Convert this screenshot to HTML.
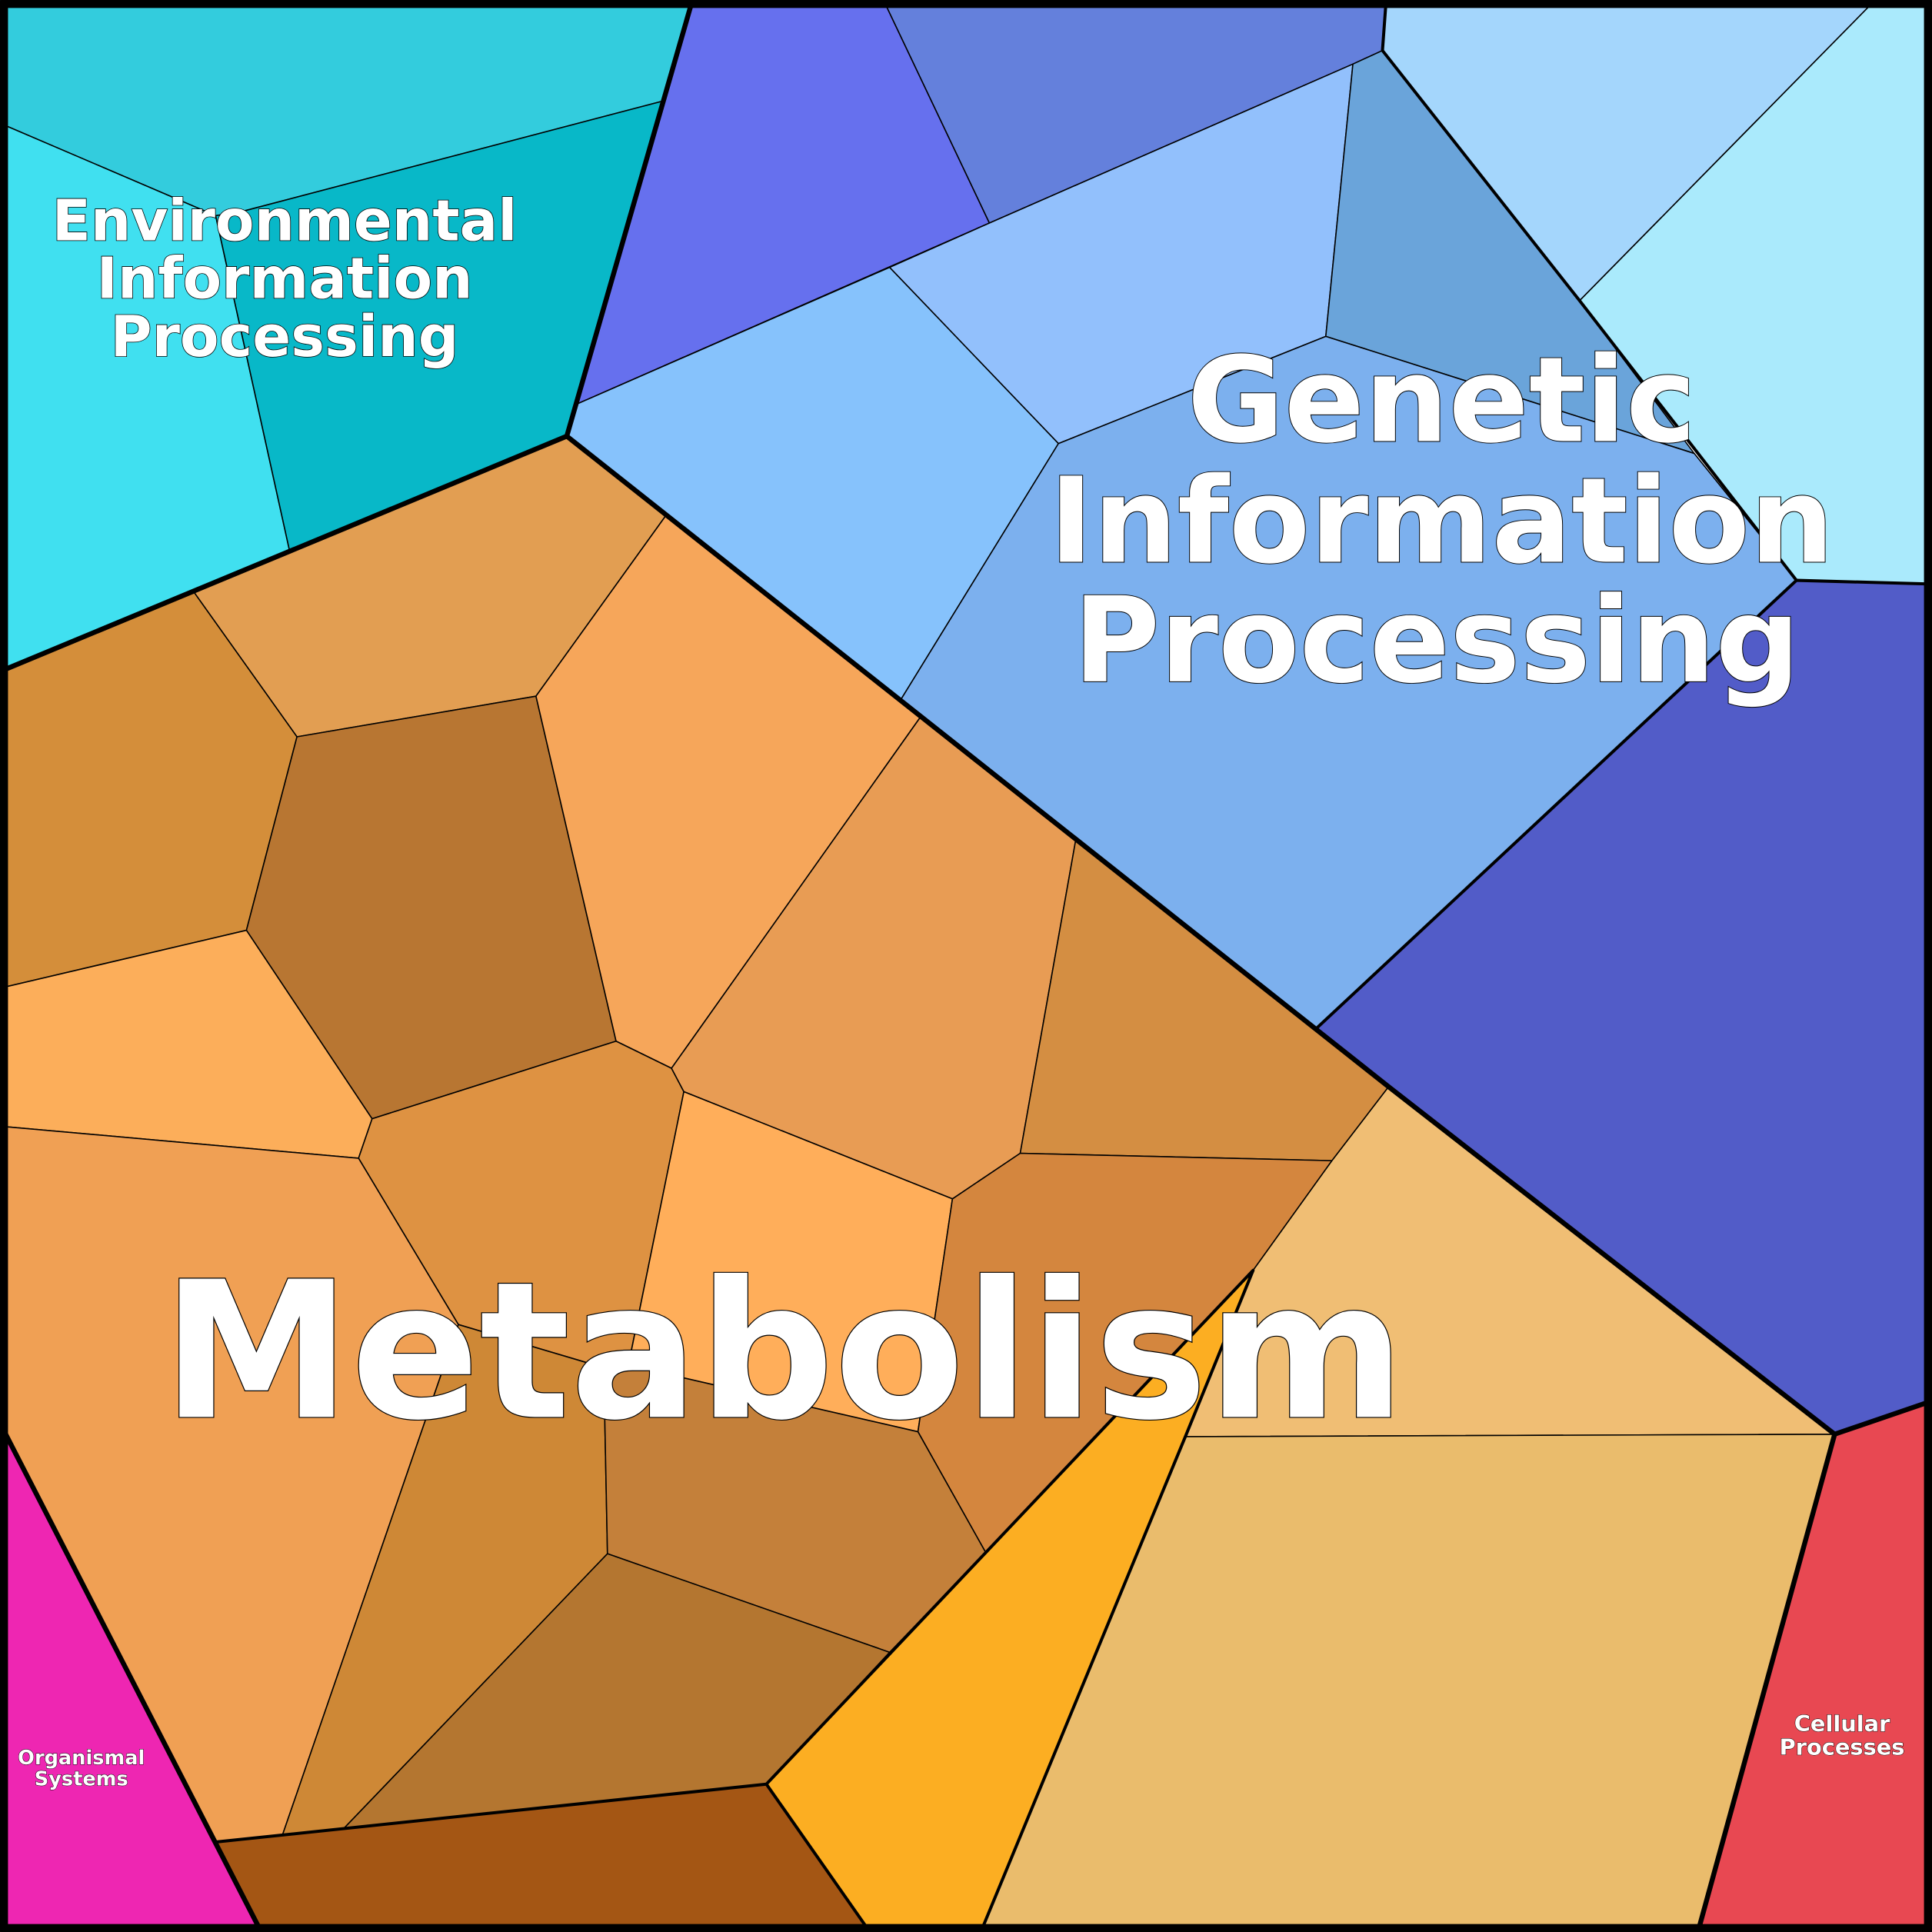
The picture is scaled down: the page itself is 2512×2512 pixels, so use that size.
<!DOCTYPE html>
<html><head><meta charset="utf-8"><style>html,body{margin:0;padding:0;background:#fff}svg{display:block}</style></head>
<body>
<svg xmlns="http://www.w3.org/2000/svg" width="2512" height="2512" viewBox="0 0 1568 1568">
<g stroke="#000" stroke-width="1" stroke-linejoin="round">
<polygon fill="#33CCDD" points="0,0 562,0 538,82 195,172 175,175 0,100"/>
<polygon fill="#40E0F0" points="0,100 175,175 235,447 0,545"/>
<polygon fill="#08B8C8" points="175,175 195,172 538,82 460,354 235,447"/>
<polygon fill="#6670EE" points="562,0 717,0 803,181 468,328 538,82"/>
<polygon fill="#6480DC" points="717,0 1125,0 1122,41 1098,52 803,181"/>
<polygon fill="#92C0FC" points="803,181 1098,52 1076,273 859,360 722,217"/>
<polygon fill="#86C2FC" points="468,328 722,217 859,360 731,568 460,354"/>
<polygon fill="#6AA4DA" points="1098,52 1122,41 1282,244 1375,368 1076,273"/>
<polygon fill="#A4D6FC" points="1125,0 1522,0 1282,244 1122,41"/>
<polygon fill="#AAEAFC" points="1522,0 1568,0 1568,474 1458,471 1282,244"/>
<polygon fill="#7CB0EE" points="859,360 1076,273 1375,368 1458,471 1068,835 731,568"/>
<polygon fill="#525CC8" points="1458,471 1568,474 1568,1137 1489,1164 1127,882 1068,835"/>
<polygon fill="#E29E52" points="460,354 540,419 435,565 241,598 157,480 235,447"/>
<polygon fill="#D48E3A" points="0,545 157,480 241,598 200,755 0,802"/>
<polygon fill="#B87632" points="241,598 435,565 500,845 302,908 200,755"/>
<polygon fill="#F6A65A" points="540,419 747,582 545,867 500,845 435,565"/>
<polygon fill="#FCAE5A" points="0,802 200,755 302,908 291,940 0,914"/>
<polygon fill="#DE9242" points="302,908 500,845 545,867 555,886 510,1108 490,1110 372,1075 291,940"/>
<polygon fill="#E89C54" points="747,582 873,682 828,936 773,973 555,886 545,867"/>
<polygon fill="#D48E42" points="873,682 1127,882 1081,942 828,936"/>
<polygon fill="#FFAE5A" points="555,886 773,973 745,1162 510,1108"/>
<polygon fill="#D4863E" points="773,973 828,936 1081,942 1017,1031 800,1260 745,1162"/>
<polygon fill="#F0A054" points="0,914 291,940 372,1075 229,1490 175,1495 0,1155"/>
<polygon fill="#CE8836" points="372,1075 490,1110 493,1261 279,1484 229,1490"/>
<polygon fill="#C4803A" points="490,1110 510,1108 745,1162 800,1260 722,1341 493,1261"/>
<polygon fill="#B47630" points="493,1261 722,1341 622,1448 279,1484"/>
<polygon fill="#A45614" points="175,1495 622,1448 706,1568 212,1568"/>
<polygon fill="#FCAE22" points="622,1448 1017,1031 962,1166 796,1568 706,1568"/>
<polygon fill="#F0BE74" points="1127,882 1489,1164 962,1166 1017,1031 1081,942"/>
<polygon fill="#EABC6C" points="962,1166 1489,1164 1378,1568 796,1568"/>
<polygon fill="#EE26B2" points="0,1155 212,1568 0,1568"/>
<polygon fill="#E84852" points="1489,1164 1568,1137 1568,1568 1378,1568"/>
</g>
<g stroke="#000" fill="none" stroke-width="2.5" stroke-linejoin="round">
<polyline points="1122,41 1282,244 1458,471 1068,835"/>
<polyline points="1458,471 1568,474"/>
<polyline points="175,1495 622,1448 706,1568"/>
<polyline points="622,1448 1017,1031 962,1166 796,1568"/>
<polyline points="1122,41 1125,0"/>
</g>
<g stroke="#000" fill="none" stroke-width="4" stroke-linejoin="round">
<polyline points="562,0 460,354 0,545"/>
<polyline points="460,354 1127,882 1489,1164 1568,1137"/>
<polyline points="1489,1164 1378,1568"/>
<polyline points="0,1155 212,1568"/>
<rect x="3" y="3" width="1562" height="1562" stroke-width="7"/>
</g>
<g font-family="'DejaVu Sans','Liberation Sans',sans-serif" font-weight="bold" fill="#fff" stroke="#000" text-anchor="middle" paint-order="stroke">
<text x="231" y="195" font-size="46" stroke-width="1">Environmental</text>
<text x="231" y="242" font-size="46" stroke-width="1">Information</text>
<text x="231" y="289" font-size="46" stroke-width="1">Processing</text>
<text x="1170" y="358" font-size="96" stroke-width="1.2">Genetic</text>
<text x="1170" y="456" font-size="96" stroke-width="1.2">Information</text>
<text x="1166" y="553" font-size="96" stroke-width="1.2">Processing</text>
<text x="636" y="1150" font-size="154" stroke-width="1.5">Metabolism</text>
<text x="66" y="1432" font-size="16" stroke-width="0.6">Organismal</text>
<text x="66" y="1449" font-size="16" stroke-width="0.6">Systems</text>
<text x="1495" y="1405" font-size="18" stroke-width="0.6">Cellular</text>
<text x="1495" y="1424" font-size="18" stroke-width="0.6">Processes</text>
</g>
</svg>
</body></html>
